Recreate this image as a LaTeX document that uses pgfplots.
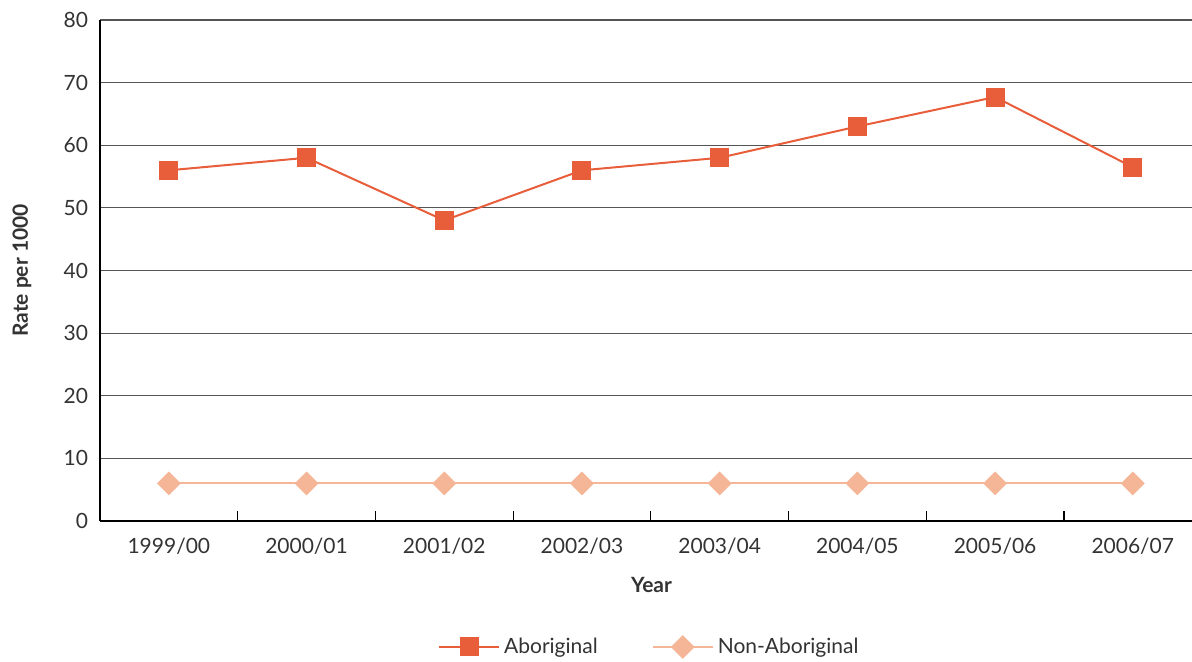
\documentclass[border=0pt]{standalone}
\usepackage{fontspec}
\setmainfont{Lato}
\usepackage{pgfplots}
\pgfplotsset{compat=1.18}
\definecolor{abo}{HTML}{E85D3A}
\definecolor{nonabo}{HTML}{F5B697}
\definecolor{txt}{HTML}{333333}
\definecolor{gridc}{HTML}{555555}
\begin{document}
\begin{tikzpicture}[font=\fontsize{10.5pt}{12.6pt}\selectfont]
\begin{axis}[
  at={(50pt,70.5pt)}, anchor=south west,
  scale only axis, width=546pt, height=250.5pt,
  xmin=-0.5, xmax=7.43, ymin=0, ymax=80,
  axis x line*=bottom, axis y line*=left,
  axis line style={black, line width=0.9pt},
  xtick={0,...,7},
  xticklabels={1999/00,2000/01,2001/02,2002/03,2003/04,2004/05,2005/06,2006/07},
  major x tick style={draw=none},
  minor xtick={-0.5,0.5,...,6.5},
  minor tick length=5pt,
  minor x tick style={black, line width=0.6pt},
  tick align=inside,
  ytick={0,10,...,80},
  major y tick style={draw=none},
  ymajorgrids,
  grid style={gridc, line width=0.6pt},
  /pgf/number format/assume math mode=true,
  xticklabel style={txt, yshift=-5pt},
  yticklabel style={txt, xshift=-2.5pt},
  xlabel={\bfseries Year},
  ylabel={\bfseries Rate per 1000},
  xlabel style={at={(axis description cs:0.505,-0.1277)}, anchor=center, txt},
  ylabel style={at={(axis description cs:-0.0714,0.5)}, anchor=center, txt},
  legend columns=2,
  legend style={draw=none, at={(axis description cs:0.504,-0.2515)}, anchor=center,
    /tikz/every even column/.append style={column sep=25pt}, text=txt},
  legend image code/.code={\draw[mark repeat=2,mark phase=2,#1] plot coordinates {(0pt,0pt) (15pt,0pt) (30pt,0pt)};},
  clip=false,
]
\addplot[abo, line width=1pt, mark=square*, mark size=4.25pt, mark options={solid, fill=abo, draw=none}]
  coordinates {(0,56) (1,58) (2,48) (3,56) (4,58) (5,63) (6,67.7) (7,56.5)};
\addlegendentry{Aboriginal}
\addplot[nonabo, line width=1pt, mark=diamond*, mark size=5.25pt, mark options={solid, fill=nonabo, draw=none, xscale=1.333}]
  coordinates {(0,6) (1,6) (2,6) (3,6) (4,6) (5,6) (6,6) (7,6)};
\addlegendentry{Non-Aboriginal}
\end{axis}
\pgfresetboundingbox
\useasboundingbox (0,0) rectangle (596pt,331pt);
\end{tikzpicture}
\end{document}
